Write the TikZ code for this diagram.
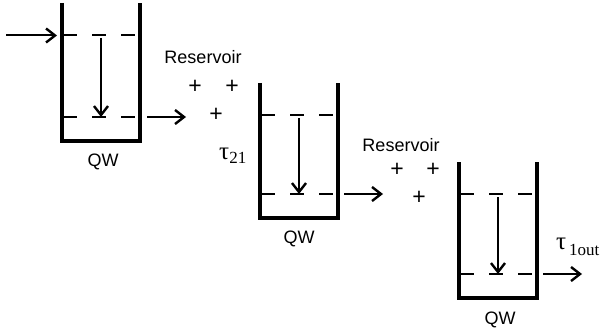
\documentclass[tikz,border=0pt]{standalone}
\usepackage{fontspec}
\setmainfont{Liberation Sans}
\newfontfamily\serifgreek{Liberation Serif}
\usetikzlibrary{arrows.meta}
\tikzset{
  wellwall/.style={line width=3.3pt,line join=miter,black},
  lvl/.style={line width=2.2pt,black},
  arr/.style={line width=2pt,black,-{Straight Barb[length=9pt,width=14pt,line width=2.4pt]}},
  lab/.style={font=\fontsize{18}{20}\selectfont,inner sep=0pt},
  plusn/.style={font=\fontsize{23}{24}\selectfont,inner sep=0pt},
  greek/.style={font=\serifgreek\fontsize{25}{26}\selectfont,inner sep=0pt,anchor=base west}
}
\newcommand{\qwell}[4]{% left x, upper level y, lower level y, name
  \coordinate (#4tl) at (#1,#2-32);
  \coordinate (#4bl) at (#1,#3+24);
  \coordinate (#4br) at (#1+78,#3+24);
  \coordinate (#4tr) at (#1+78,#2-32);
  \draw[wellwall] (#4tl) -- (#4bl) -- (#4br) -- (#4tr);
  \coordinate (#4ua) at (#1+1,#2);
  \coordinate (#4ub) at (#1+15,#2);
  \coordinate (#4uc) at (#1+30,#2);
  \coordinate (#4ud) at (#1+44,#2);
  \coordinate (#4ue) at (#1+59,#2);
  \coordinate (#4uf) at (#1+73,#2);
  \coordinate (#4la) at (#1+1,#3);
  \coordinate (#4lb) at (#1+15,#3);
  \coordinate (#4lc) at (#1+30,#3);
  \coordinate (#4ld) at (#1+44,#3);
  \coordinate (#4le) at (#1+59,#3);
  \coordinate (#4lf) at (#1+73,#3);
  \draw[lvl] (#4ua)--(#4ub) (#4uc)--(#4ud) (#4ue)--(#4uf)
             (#4la)--(#4lb) (#4lc)--(#4ld) (#4le)--(#4lf);
  \coordinate (#4s) at (#1+39,#2+3);
  \coordinate (#4e) at (#1+39,#3);
  \draw[arr] (#4s) -- (#4e);
}
\begin{document}
\begin{tikzpicture}[x=1pt,y=-1pt]
\useasboundingbox (0,0) rectangle (601,334);
\qwell{62}{35}{117}{a}
\qwell{260}{115}{194}{b}
\qwell{459}{194}{274}{c}
\coordinate (in0) at (6,35.5);
\coordinate (in1) at (57,35.5);
\coordinate (o1a) at (147,117);
\coordinate (o1b) at (186,117);
\coordinate (o2a) at (344,194);
\coordinate (o2b) at (383,194);
\coordinate (o3a) at (543,274);
\coordinate (o3b) at (582,274);
\draw[arr] (in0) -- (in1);
\draw[arr] (o1a) -- (o1b);
\draw[arr] (o2a) -- (o2b);
\draw[arr] (o3a) -- (o3b);
\node[lab] (q1) at (103,162) {QW};
\node[lab] (q2) at (299,239) {QW};
\node[lab] (q3) at (500,320) {QW};
\node[lab] (r1) at (203,57) {Reservoir};
\node[lab] (r2) at (401,145) {Reservoir};
\node[plusn] (p1) at (195,87) {+};
\node[plusn] (p2) at (232,87) {+};
\node[plusn] (p3) at (216,115) {+};
\node[plusn] (p4) at (397,170) {+};
\node[plusn] (p5) at (433,170) {+};
\node[plusn] (p6) at (419,198) {+};
\node[greek] (t1) at (219,159) {τ\raisebox{-4pt}{\fontsize{17}{18}\selectfont 21}};
\node[greek] (t2) at (556,249) {τ\raisebox{-6pt}{\fontsize{17}{18}\selectfont\,1out}};
\end{tikzpicture}
\end{document}
